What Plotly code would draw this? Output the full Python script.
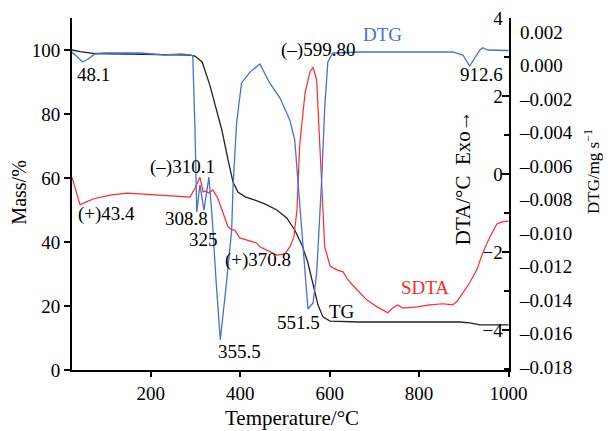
import plotly.graph_objects as go

# ---------------- data ----------------
temp_tg = [24, 42, 75, 154, 288, 299, 315, 332, 344, 359, 373, 384, 395, 411, 433, 455,
           482, 504, 522, 538, 551, 563, 574, 585, 601, 668, 802, 891, 913, 936, 1000]
mass_tg = [100.0, 99.5, 98.9, 98.75, 98.4, 98.1, 96.25, 89.1, 82.8, 75.0, 65.6, 58.75, 55.6,
           54.1, 53.1, 51.9, 50.0, 47.5, 43.75, 39.1, 33.75, 26.6, 20.3, 16.6, 15.3, 15.0,
           15.0, 15.0, 14.7, 14.1, 14.1]

temp_dtg = [24, 48, 60, 75, 98, 176, 232, 270, 290, 294, 299, 303, 310, 319, 330, 337, 346,
            355.5, 370, 375, 381, 384, 392, 403, 422, 444, 466, 489, 511, 522, 529, 540,
            551.5, 563, 571, 583, 589, 596, 607, 668, 757, 875, 898, 913, 936, 942, 954, 1000]
dtg = [0.00081, 0.00021, 0.00039, 0.00069, 0.00075, 0.00075, 0.00063, 0.00069, 0.00063,
       0.00057, -0.00385, -0.00875, -0.00713, -0.00863, -0.00666, -0.00893, -0.01281,
       -0.01639, -0.01281, -0.01161, -0.00982, -0.00725, -0.00343, -0.00104, -0.00039,
       0.00009, -0.00104, -0.00194, -0.00325, -0.00445, -0.00684, -0.01042, -0.01454,
       -0.01418, -0.01239, -0.00642, -0.00248, 0.00021, 0.00075, 0.00081, 0.00081, 0.00081,
       0.00063, -0.00003, 0.00093, 0.00107, 0.00093, 0.00090]

temp_dta = [24, 33, 42, 55, 71, 109, 147, 221, 288, 299, 310, 317, 323, 330, 339, 350, 361,
            373, 382, 388, 399, 422, 437, 444, 458, 482, 500, 511, 520, 527, 533, 545, 556,
            563, 571, 578, 585, 589, 601, 616, 630, 641, 661, 683, 706, 730, 741, 752, 764,
            795, 824, 853, 875, 884, 898, 913, 929, 942, 958, 974, 985, 1000]
sdta = [-0.08, -0.41, -0.79, -0.72, -0.64, -0.54, -0.49, -0.54, -0.59, -0.36, -0.08, -0.46,
        -0.44, -0.49, -0.41, -0.62, -1.00, -1.36, -1.44, -1.44, -1.64, -1.72, -1.77, -1.87,
        -1.95, -2.08, -2.05, -1.87, -1.62, -0.92, 0.74, 2.08, 2.62, 2.74, 2.41, 0.87, -0.85,
        -1.87, -2.36, -2.46, -2.51, -2.72, -2.97, -3.23, -3.41, -3.56, -3.44, -3.36, -3.44,
        -3.41, -3.36, -3.33, -3.36, -3.28, -3.05, -2.79, -2.46, -2.03, -1.62, -1.28, -1.23,
        -1.21]

x_ticks = [200, 400, 600, 800, 1000]
mass_ticks = [0, 20, 40, 60, 80, 100]
dta_ticks = [-4, -2, 0, 2, 4]
dta_labels = ["\u22124", "\u22122", "0", "2", "4"]
dta_minor = [-5, -3, -1, 1, 3]
dtg_ticks = [0.002, 0.0, -0.002, -0.004, -0.006, -0.008, -0.010, -0.012, -0.014, -0.016, -0.018]
dtg_labels = ["0.002", "0.000", "\u20130.002", "\u20130.004", "\u20130.006", "\u20130.008",
              "\u20130.010", "\u20130.012", "\u20130.014", "\u20130.016", "\u20130.018"]

# peak labels: (text, temperature, mass-axis height)
peak_text = ["48.1", "(\u2013)599.80", "912.6", "(\u2013)310.1", "(+)43.4", "308.8", "325",
             "(+)370.8", "355.5", "551.5", "TG"]
peak_x = [71, 574, 940, 272, 102, 281, 317, 440, 399, 531, 627]
peak_y = [92.2, 100, 92.2, 63.4, 48.75, 47.5, 40.9, 34.4, 5.9, 15.0, 18.4]

FONT = "Liberation Serif"
FS = 19
BLACK = "#222222"
BLUE = "#4a6fd0"
RED = "#ff2a2a"

fig = go.Figure()
fig.add_trace(go.Scatter(x=temp_tg, y=mass_tg, mode="lines", yaxis="y",
                         line=dict(color=BLACK, width=1.3), hoverinfo="skip"))
fig.add_trace(go.Scatter(x=temp_dta, y=sdta, mode="lines", yaxis="y2",
                         line=dict(color=RED, width=1.2), hoverinfo="skip"))
fig.add_trace(go.Scatter(x=temp_dtg, y=dtg, mode="lines", yaxis="y3",
                         line=dict(color=BLUE, width=1.3), hoverinfo="skip"))

annotations = []
for t, x, y in zip(peak_text, peak_x, peak_y):
    annotations.append(dict(text=t, x=x, y=y, xref="x", yref="y", showarrow=False,
                            xanchor="center", yanchor="middle",
                            font=dict(family=FONT, size=FS, color="black")))
annotations.append(dict(text="DTG", x=719, y=104.7, xref="x", yref="y", showarrow=False,
                        xanchor="center", yanchor="middle",
                        font=dict(family=FONT, size=FS, color=BLUE)))
annotations.append(dict(text="SDTA", x=813, y=25.9, xref="x", yref="y", showarrow=False,
                        xanchor="center", yanchor="middle",
                        font=dict(family=FONT, size=FS, color=RED)))
# axis titles
title_common = dict(xref="paper", yref="paper", showarrow=False,
                    xanchor="center", yanchor="middle")
annotations.append(dict(text="Mass/%", x=-0.122, y=0.503, textangle=-90,
                        font=dict(family=FONT, size=20, color="black"), **title_common))
annotations.append(dict(text="Temperature/\u00b0C", x=0.503, y=-0.136,
                        font=dict(family=FONT, size=21, color="black"), **title_common))
annotations.append(dict(text="DTA/\u00b0C  Exo\u2192", x=0.895, y=0.545, textangle=-90,
                        font=dict(family=FONT, size=21, color="black"), **title_common))
annotations.append(dict(text="DTG/mg s<sup>\u22121</sup>", x=1.19, y=0.5625, textangle=-90,
                        font=dict(family=FONT, size=17, color="black"), **title_common))

axis_common = dict(showgrid=False, zeroline=False, linecolor="black", tickcolor="black",
                   automargin=False, ticklabeloverflow="allow",
                   tickfont=dict(family=FONT, size=FS, color="black"))

fig.update_layout(
    width=611, height=431,
    margin=dict(l=64, r=110, t=10, b=69, autoexpand=False),
    paper_bgcolor="white", plot_bgcolor="white",
    showlegend=False,
    font=dict(family=FONT, size=FS, color="black"),
    xaxis=dict(range=[24, 1001], tickvals=x_ticks, ticks="outside", ticklen=5, tickwidth=1.5,
               showline=True, linewidth=2, **axis_common),
    yaxis=dict(range=[0, 110], tickvals=mass_ticks, ticks="outside", ticklen=6, tickwidth=1.5,
               showline=True, linewidth=2, **axis_common),
    yaxis2=dict(overlaying="y", side="right", anchor="x", range=[-5.03, 4.005],
                tickvals=dta_ticks, ticktext=dta_labels, ticks="inside", ticklen=7,
                tickwidth=1.5, ticklabelposition="inside",
                minor=dict(tickvals=dta_minor, ticks="inside", ticklen=5, tickwidth=1.5,
                           tickcolor="black", showgrid=False),
                showline=True, linewidth=2, **axis_common),
    yaxis3=dict(overlaying="y", side="right", anchor="x", range=[-0.01818, 0.00284],
                tickvals=dtg_ticks, ticktext=dtg_labels, ticks="", showline=False,
                ticklabelstandoff=10, **axis_common),
    annotations=annotations,
)

fig.write_html("out.html")
